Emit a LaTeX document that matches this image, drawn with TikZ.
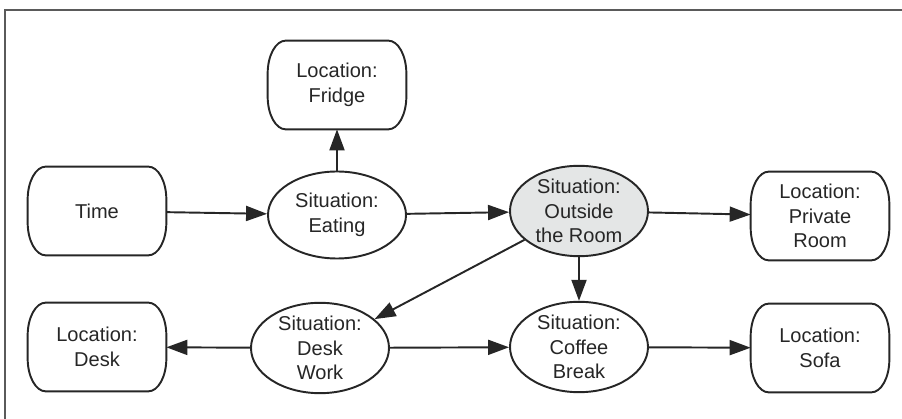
\documentclass[tikz,border=0pt]{standalone}
\usepackage{fontspec}
\setmainfont{Liberation Sans}
\definecolor{ink}{HTML}{262626}
\definecolor{haze}{HTML}{E4E6E6}
\definecolor{rule}{HTML}{5A5A5A}
\usetikzlibrary{arrows.meta, positioning, shapes.geometric}
\tikzset{
  flow/.style={-{Triangle[length=4.2mm,width=3mm]}, line width=1.1pt, color=ink},
  txt/.style={font=\fontsize{11.4}{14}\selectfont, align=center, text=ink},
}

\begin{document}
\begin{tikzpicture}[
        loc/.style={txt,rectangle,minimum width=2.76cm,minimum height=1.76cm,inner sep=1pt,
                    append after command={\pgfextra{
                      \draw[ink,line width=1.1pt] ([xshift=0.36cm]\tikzlastnode.north west)
                        -- ([xshift=-0.36cm]\tikzlastnode.north east)
                        arc[start angle=90,end angle=0,x radius=0.36cm,y radius=0.66cm]
                        -- ([yshift=0.66cm]\tikzlastnode.south east)
                        arc[start angle=0,end angle=-90,x radius=0.36cm,y radius=0.66cm]
                        -- ([xshift=0.36cm]\tikzlastnode.south west)
                        arc[start angle=270,end angle=180,x radius=0.36cm,y radius=0.66cm]
                        -- ([yshift=-0.66cm]\tikzlastnode.north west)
                        arc[start angle=180,end angle=90,x radius=0.36cm,y radius=0.66cm]
                        -- cycle;}}},
        sit/.style={txt,draw=ink,line width=1.1pt,fill=white,ellipse,
                    minimum width=2.76cm,minimum height=1.74cm,inner sep=0pt}]
        \useasboundingbox (0,0) rectangle (18.04,-8.38);
        \draw[rule,line width=0.9pt] (0.1,-8.38) |- (18.04,-0.2);
        % top row
        \node[loc] (time) at (1.94,-4.22) {Time};
        \node[loc] (fridge) at (6.74,-1.70) {Location:\\Fridge};
        \node[sit] (eat) at (6.74,-4.30) {Situation:\\Eating};
        \node[sit,fill=haze] (out) at (11.58,-4.22) {Situation:\\Outside\\the Room};
        \node[loc] (priv) at (16.40,-4.32) {Location:\\Private\\Room};
        % bottom row
        \node[loc] (desk) at (1.94,-6.94) {Location:\\Desk};
        \node[sit] (work) at (6.40,-6.96) {Situation:\\Desk\\Work};
        \node[sit] (coffee) at (11.58,-6.94) {Situation:\\Coffee\\Break};
        \node[loc] (sofa) at (16.40,-6.96) {Location:\\Sofa};
        \draw[flow] (time)--(eat);
        \draw[flow] (eat)--(fridge);
        \draw[flow] (eat)--(out);
        \draw[flow] (out)--(priv);
        \draw[flow] (out)--(coffee);
        \draw[flow] (out)--(work);
        \draw[flow] (work)--(desk);
        \draw[flow] (work)--(coffee);
        \draw[flow] (coffee)--(sofa);
      \end{tikzpicture}
\end{document}
